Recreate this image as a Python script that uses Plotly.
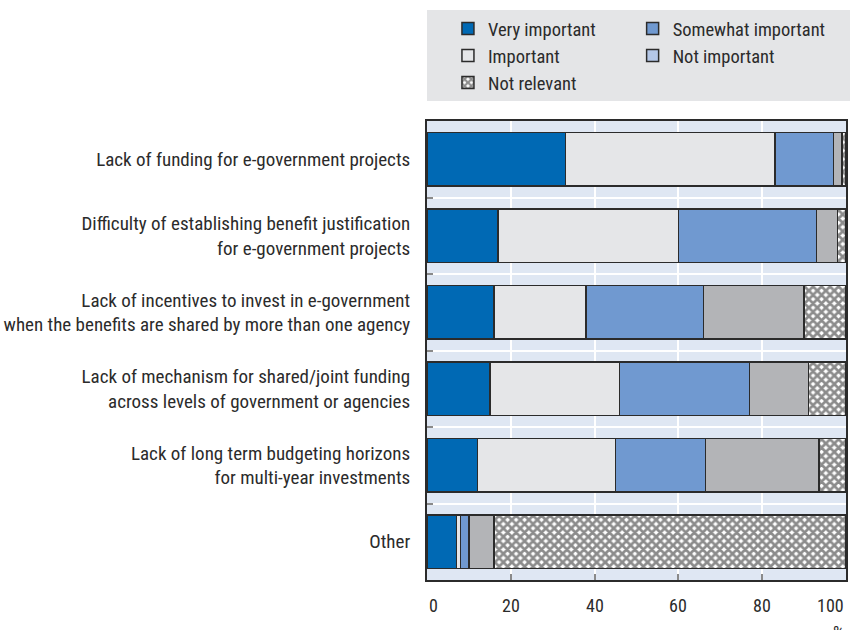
import plotly.graph_objects as go

# Barriers to e-government funding, share of respondents (%)
categories = [
    "Lack of funding for e-government projects",
    "Difficulty of establishing benefit justification<br>for e-government projects",
    "Lack of incentives to invest in e-government<br>when the benefits are shared by more than one agency",
    "Lack of mechanism for shared/joint funding<br>across levels of government or agencies",
    "Lack of long term budgeting horizons<br>for multi-year investments",
    "Other",
]
very_important = [33, 17, 16, 15, 12, 7]
important = [50, 43, 22, 31, 33, 1]
somewhat_important = [14, 33, 28, 31, 21.5, 2]
not_important = [2, 5, 24, 14, 27, 6]
not_relevant = [1, 2, 10, 9, 6.5, 84]

x_tick_values = [0, 20, 40, 60, 80, 100]
x_tick_labels = ["0", "20", "40", "60", "80", "100"]

FONT = "Liberation Sans Narrow, Arial Narrow, Roboto Condensed, sans-serif"
FSIZE = 19
TEXT = "#2b2b2b"
EDGE = dict(color="#2b2b2b", width=1.5)

fig = go.Figure()

# (name, values, colour, pattern, legend column, rank within column)
series = [
    ("Very important", very_important, "#0069b4", None, "legend", 1),
    ("Important", important, "#e5e6e8", None, "legend", 2),
    ("Somewhat important", somewhat_important, "#7099d0", None, "legend2", 1),
    ("Not important", not_important, "#b3b4b7", None, "legend2", 2),
    ("Not relevant", not_relevant, "#ffffff",
     dict(shape="x", fgcolor="#1a1a1a", bgcolor="#ffffff", size=6, solidity=0.7), "legend", 3),
]

for name, vals, color, pattern, leg, rank in series:
    marker = dict(color=color, line=EDGE)
    if pattern:
        marker["pattern"] = pattern
    fig.add_trace(go.Bar(
        y=categories, x=vals, orientation="h", name=name, marker=marker,
        legend=leg, legendrank=rank, showlegend=(name != "Not important"),
    ))

# Legend key for "Not important" uses the pale blue swatch
fig.add_trace(go.Bar(
    y=[None], x=[None], orientation="h", name="Not important",
    marker=dict(color="#b4c7e7", line=EDGE), legend="legend2", legendrank=2,
))

# X tick labels, end labels kept inside the frame
annotations = []
for v, lab in zip(x_tick_values, x_tick_labels):
    anchor = "left" if v == x_tick_values[0] else ("right" if v == x_tick_values[-1] else "center")
    annotations.append(dict(
        x=v, y=-0.0545, xref="x", yref="paper", text=lab, showarrow=False,
        xanchor=anchor, yanchor="middle", font=dict(family=FONT, size=18, color=TEXT),
    ))
annotations.append(dict(
    x=100, y=-0.087, xref="x", yref="paper", text="%", showarrow=False,
    xanchor="right", yanchor="top", font=dict(family=FONT, size=18, color=TEXT),
))

legend_style = dict(
    orientation="v", xanchor="left", y=1.242, yanchor="top",
    bgcolor="rgba(0,0,0,0)", font=dict(family=FONT, size=18.5, color=TEXT),
    traceorder="normal",
)

fig.update_layout(
    width=852, height=630,
    margin=dict(l=426, r=4, t=121, b=50),
    barmode="stack", bargap=0.3,
    paper_bgcolor="#ffffff", plot_bgcolor="#dfe7f3",
    font=dict(family=FONT, size=FSIZE, color=TEXT),
    showlegend=True,
    legend=dict(x=0.05, **legend_style),
    legend2=dict(x=0.05 + 186 / 422, **legend_style),
    shapes=[dict(
        type="rect", xref="paper", yref="paper",
        x0=0, x1=1.0095, y0=1.0436, y1=1.2418,
        fillcolor="#e4e5e7", line=dict(width=0), layer="below",
    )],
    annotations=annotations,
    xaxis=dict(
        range=[0, 100], tickvals=[20, 40, 60, 80], showticklabels=False,
        showgrid=True, gridcolor="#ffffff", gridwidth=1.5,
        ticks="inside", ticklen=6, tickcolor="#8a8a8a", tickwidth=2,
        showline=True, linecolor="#2b2b2b", linewidth=2, mirror=True,
        zeroline=False, fixedrange=True,
    ),
    yaxis=dict(
        autorange="reversed", tickson="boundaries",
        showgrid=True, gridcolor="#ffffff", gridwidth=1.5,
        ticks="inside", ticklen=6, tickcolor="#8a8a8a", tickwidth=2,
        ticklabelstandoff=11,
        showline=True, linecolor="#2b2b2b", linewidth=2, mirror=True,
        tickfont=dict(family=FONT, size=FSIZE, color=TEXT),
    ),
)

fig.write_html("out.html")
